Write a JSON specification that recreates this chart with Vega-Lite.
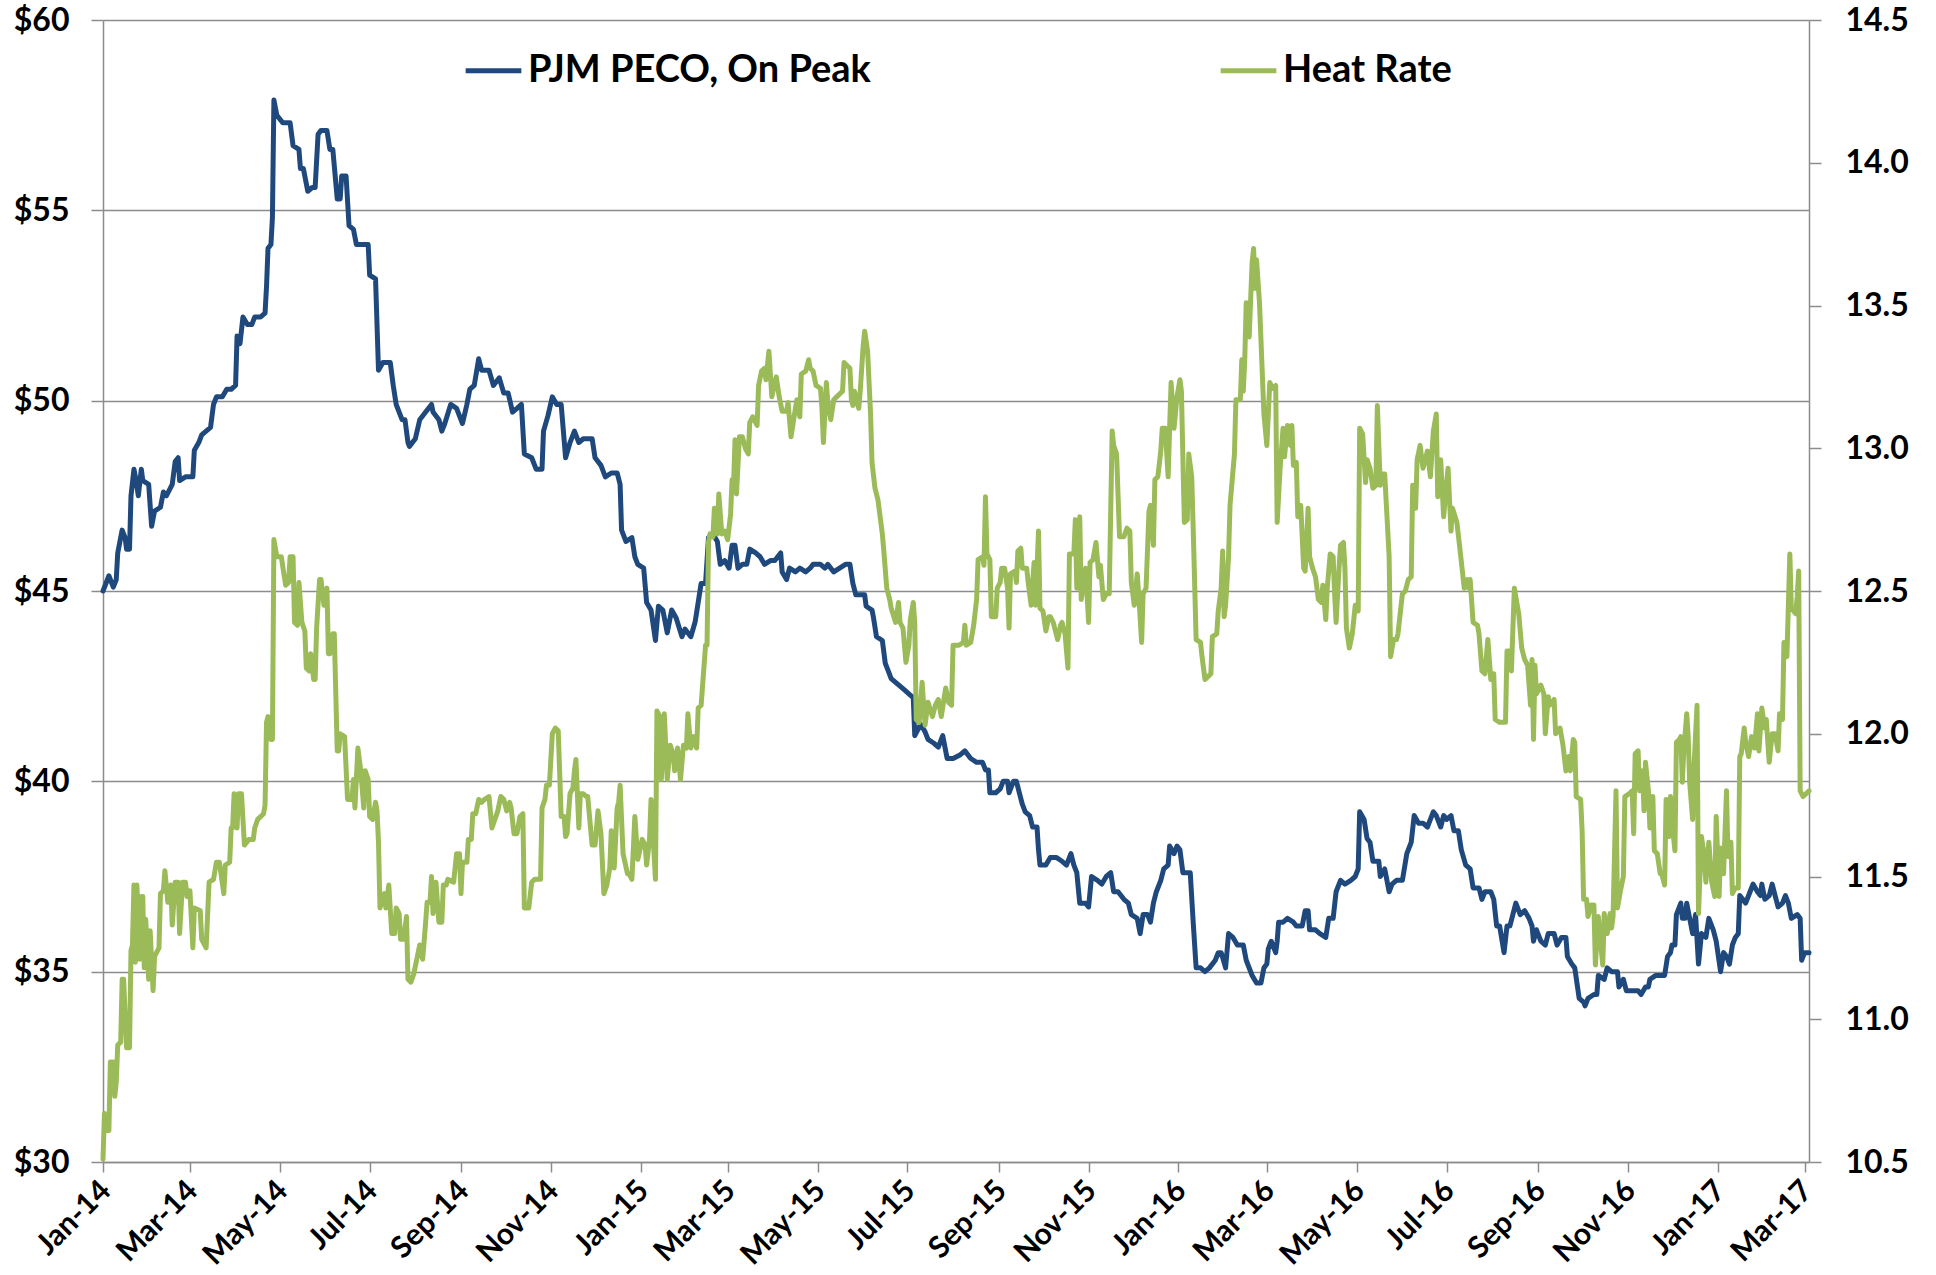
{
  "$schema": "https://vega.github.io/schema/vega-lite/v6.json",
  "width": 1706,
  "height": 1142,
  "autosize": {"type": "none"},
  "padding": {"left": 103, "top": 20, "right": 127, "bottom": 113},
  "background": "white",
  "datasets": {
    "peco": [
      {"d":"2014-01-01","v":45.0},{"d":"2014-01-05","v":45.4},{"d":"2014-01-08","v":45.1},{"d":"2014-01-10","v":45.3},{"d":"2014-01-11","v":46.0},{"d":"2014-01-14","v":46.6},{"d":"2014-01-16","v":46.4},{"d":"2014-01-17","v":46.1},{"d":"2014-01-19","v":46.1},{"d":"2014-01-20","v":47.5},{"d":"2014-01-22","v":48.2},{"d":"2014-01-23","v":48.0},{"d":"2014-01-25","v":47.5},{"d":"2014-01-27","v":48.2},{"d":"2014-01-28","v":47.9},
      {"d":"2014-02-01","v":47.8},{"d":"2014-02-03","v":46.7},{"d":"2014-02-05","v":47.1},{"d":"2014-02-09","v":47.2},{"d":"2014-02-11","v":47.6},{"d":"2014-02-13","v":47.5},{"d":"2014-02-17","v":47.8},{"d":"2014-02-19","v":48.4},{"d":"2014-02-21","v":48.5},{"d":"2014-02-22","v":47.9},{"d":"2014-02-26","v":48.0},
      {"d":"2014-03-03","v":48.0},{"d":"2014-03-04","v":48.7},{"d":"2014-03-07","v":48.9},{"d":"2014-03-09","v":49.1},{"d":"2014-03-12","v":49.2},{"d":"2014-03-15","v":49.3},{"d":"2014-03-17","v":49.9},{"d":"2014-03-19","v":50.1},{"d":"2014-03-23","v":50.1},{"d":"2014-03-26","v":50.3},{"d":"2014-03-29","v":50.3},
      {"d":"2014-04-01","v":50.4},{"d":"2014-04-02","v":51.7},{"d":"2014-04-04","v":51.5},{"d":"2014-04-06","v":52.2},{"d":"2014-04-09","v":52.0},{"d":"2014-04-12","v":52.0},{"d":"2014-04-14","v":52.2},{"d":"2014-04-18","v":52.2},{"d":"2014-04-21","v":52.3},{"d":"2014-04-22","v":53.0},{"d":"2014-04-23","v":54.0},{"d":"2014-04-25","v":54.1},{"d":"2014-04-26","v":54.8},{"d":"2014-04-27","v":57.9},{"d":"2014-04-29","v":57.5},
      {"d":"2014-05-01","v":57.4},{"d":"2014-05-03","v":57.3},{"d":"2014-05-08","v":57.3},{"d":"2014-05-10","v":56.7},{"d":"2014-05-14","v":56.6},{"d":"2014-05-15","v":56.1},{"d":"2014-05-17","v":56.1},{"d":"2014-05-20","v":55.5},{"d":"2014-05-23","v":55.6},{"d":"2014-05-25","v":55.6},{"d":"2014-05-27","v":57.0},{"d":"2014-05-29","v":57.1},
      {"d":"2014-06-02","v":57.1},{"d":"2014-06-04","v":56.6},{"d":"2014-06-06","v":56.6},{"d":"2014-06-09","v":55.3},{"d":"2014-06-11","v":55.3},{"d":"2014-06-12","v":55.9},{"d":"2014-06-15","v":55.9},{"d":"2014-06-17","v":54.6},{"d":"2014-06-20","v":54.5},{"d":"2014-06-22","v":54.1},{"d":"2014-06-30","v":54.1},
      {"d":"2014-07-01","v":53.3},{"d":"2014-07-05","v":53.2},{"d":"2014-07-07","v":50.8},{"d":"2014-07-10","v":51.0},{"d":"2014-07-15","v":51.0},{"d":"2014-07-17","v":50.4},{"d":"2014-07-19","v":49.9},{"d":"2014-07-23","v":49.5},{"d":"2014-07-25","v":49.5},{"d":"2014-07-27","v":48.9},{"d":"2014-07-28","v":48.8},
      {"d":"2014-08-01","v":49.0},{"d":"2014-08-04","v":49.5},{"d":"2014-08-08","v":49.7},{"d":"2014-08-12","v":49.9},{"d":"2014-08-13","v":49.7},{"d":"2014-08-17","v":49.5},{"d":"2014-08-19","v":49.2},{"d":"2014-08-21","v":49.4},{"d":"2014-08-25","v":49.9},{"d":"2014-08-29","v":49.8},
      {"d":"2014-09-02","v":49.4},{"d":"2014-09-05","v":49.9},{"d":"2014-09-07","v":50.3},{"d":"2014-09-10","v":50.4},{"d":"2014-09-13","v":51.1},{"d":"2014-09-15","v":50.8},{"d":"2014-09-20","v":50.8},{"d":"2014-09-23","v":50.4},{"d":"2014-09-27","v":50.6},{"d":"2014-09-30","v":50.2},
      {"d":"2014-10-03","v":50.2},{"d":"2014-10-06","v":49.7},{"d":"2014-10-09","v":49.8},{"d":"2014-10-12","v":49.9},{"d":"2014-10-14","v":48.6},{"d":"2014-10-19","v":48.5},{"d":"2014-10-22","v":48.2},{"d":"2014-10-26","v":48.2},{"d":"2014-10-27","v":49.2},{"d":"2014-10-30","v":49.6},
      {"d":"2014-11-02","v":50.1},{"d":"2014-11-05","v":49.9},{"d":"2014-11-08","v":49.9},{"d":"2014-11-11","v":48.5},{"d":"2014-11-14","v":48.9},{"d":"2014-11-17","v":49.2},{"d":"2014-11-20","v":48.9},{"d":"2014-11-23","v":49.0},{"d":"2014-11-29","v":49.0},
      {"d":"2014-12-01","v":48.5},{"d":"2014-12-05","v":48.3},{"d":"2014-12-08","v":48.0},{"d":"2014-12-12","v":48.1},{"d":"2014-12-16","v":48.1},{"d":"2014-12-18","v":47.8},{"d":"2014-12-19","v":46.6},{"d":"2014-12-22","v":46.3},{"d":"2014-12-26","v":46.4},{"d":"2014-12-28","v":45.9},{"d":"2014-12-30","v":45.7},
      {"d":"2015-01-03","v":45.6},{"d":"2015-01-05","v":44.7},{"d":"2015-01-08","v":44.5},{"d":"2015-01-11","v":43.7},{"d":"2015-01-13","v":44.6},{"d":"2015-01-16","v":44.5},{"d":"2015-01-19","v":43.9},{"d":"2015-01-22","v":44.5},{"d":"2015-01-25","v":44.3},{"d":"2015-01-29","v":43.8},{"d":"2015-01-31","v":44.0},
      {"d":"2015-02-04","v":43.8},{"d":"2015-02-07","v":44.2},{"d":"2015-02-09","v":44.7},{"d":"2015-02-11","v":45.2},{"d":"2015-02-14","v":45.2},{"d":"2015-02-16","v":46.4},{"d":"2015-02-19","v":46.5},{"d":"2015-02-22","v":46.3},{"d":"2015-02-24","v":45.7},{"d":"2015-02-27","v":45.8},
      {"d":"2015-03-02","v":45.6},{"d":"2015-03-04","v":46.2},{"d":"2015-03-06","v":46.2},{"d":"2015-03-08","v":45.6},{"d":"2015-03-11","v":45.7},{"d":"2015-03-14","v":45.7},{"d":"2015-03-16","v":46.1},{"d":"2015-03-20","v":46.0},{"d":"2015-03-23","v":45.9},{"d":"2015-03-26","v":45.7},{"d":"2015-03-30","v":45.8},
      {"d":"2015-04-02","v":45.8},{"d":"2015-04-06","v":46.0},{"d":"2015-04-07","v":45.5},{"d":"2015-04-10","v":45.3},{"d":"2015-04-12","v":45.6},{"d":"2015-04-16","v":45.5},{"d":"2015-04-19","v":45.6},{"d":"2015-04-23","v":45.5},{"d":"2015-04-26","v":45.6},{"d":"2015-04-28","v":45.7},
      {"d":"2015-05-03","v":45.7},{"d":"2015-05-06","v":45.6},{"d":"2015-05-08","v":45.7},{"d":"2015-05-12","v":45.5},{"d":"2015-05-16","v":45.6},{"d":"2015-05-20","v":45.7},{"d":"2015-05-23","v":45.7},{"d":"2015-05-25","v":45.2},{"d":"2015-05-27","v":44.9},{"d":"2015-05-30","v":44.9},
      {"d":"2015-06-02","v":44.9},{"d":"2015-06-03","v":44.6},{"d":"2015-06-07","v":44.5},{"d":"2015-06-08","v":44.3},{"d":"2015-06-10","v":43.8},{"d":"2015-06-14","v":43.7},{"d":"2015-06-16","v":43.1},{"d":"2015-06-18","v":42.9},{"d":"2015-06-20","v":42.7},{"d":"2015-06-23","v":42.6},{"d":"2015-06-26","v":42.5},{"d":"2015-06-29","v":42.4},
      {"d":"2015-07-02","v":42.3},{"d":"2015-07-05","v":42.2},{"d":"2015-07-06","v":41.2},{"d":"2015-07-10","v":41.5},{"d":"2015-07-13","v":41.3},{"d":"2015-07-15","v":41.1},{"d":"2015-07-19","v":41.0},{"d":"2015-07-22","v":40.9},{"d":"2015-07-25","v":41.2},{"d":"2015-07-28","v":40.6},
      {"d":"2015-08-01","v":40.6},{"d":"2015-08-06","v":40.7},{"d":"2015-08-09","v":40.8},{"d":"2015-08-13","v":40.6},{"d":"2015-08-17","v":40.5},{"d":"2015-08-21","v":40.5},{"d":"2015-08-23","v":40.3},{"d":"2015-08-25","v":40.3},{"d":"2015-08-26","v":39.7},{"d":"2015-08-30","v":39.7},
      {"d":"2015-09-02","v":39.8},{"d":"2015-09-04","v":40.0},{"d":"2015-09-07","v":40.0},{"d":"2015-09-08","v":39.7},{"d":"2015-09-11","v":40.0},{"d":"2015-09-13","v":40.0},{"d":"2015-09-15","v":39.7},{"d":"2015-09-17","v":39.4},{"d":"2015-09-19","v":39.2},{"d":"2015-09-22","v":39.1},{"d":"2015-09-24","v":38.8},{"d":"2015-09-27","v":38.8},{"d":"2015-09-28","v":38.2},{"d":"2015-09-29","v":37.8},
      {"d":"2015-10-03","v":37.8},{"d":"2015-10-06","v":38.0},{"d":"2015-10-10","v":38.0},{"d":"2015-10-14","v":37.9},{"d":"2015-10-17","v":37.8},{"d":"2015-10-20","v":38.1},{"d":"2015-10-22","v":37.8},{"d":"2015-10-24","v":37.6},{"d":"2015-10-26","v":36.8},{"d":"2015-10-30","v":36.8},
      {"d":"2015-11-01","v":36.7},{"d":"2015-11-03","v":37.5},{"d":"2015-11-07","v":37.4},{"d":"2015-11-10","v":37.3},{"d":"2015-11-13","v":37.5},{"d":"2015-11-16","v":37.6},{"d":"2015-11-18","v":37.1},{"d":"2015-11-21","v":37.1},{"d":"2015-11-25","v":36.9},{"d":"2015-11-28","v":36.8},{"d":"2015-11-30","v":36.5},
      {"d":"2015-12-04","v":36.4},{"d":"2015-12-06","v":36.0},{"d":"2015-12-08","v":36.5},{"d":"2015-12-11","v":36.5},{"d":"2015-12-13","v":36.3},{"d":"2015-12-15","v":36.8},{"d":"2015-12-17","v":37.1},{"d":"2015-12-20","v":37.4},{"d":"2015-12-22","v":37.7},{"d":"2015-12-25","v":37.8},{"d":"2015-12-26","v":38.3},{"d":"2015-12-29","v":38.1},{"d":"2015-12-31","v":38.3},
      {"d":"2016-01-02","v":38.2},{"d":"2016-01-04","v":37.6},{"d":"2016-01-09","v":37.6},{"d":"2016-01-11","v":36.3},{"d":"2016-01-13","v":35.1},{"d":"2016-01-16","v":35.1},{"d":"2016-01-19","v":35.0},{"d":"2016-01-22","v":35.1},{"d":"2016-01-26","v":35.3},{"d":"2016-01-28","v":35.5},{"d":"2016-01-30","v":35.5},
      {"d":"2016-02-02","v":35.1},{"d":"2016-02-04","v":36.0},{"d":"2016-02-07","v":35.9},{"d":"2016-02-10","v":35.7},{"d":"2016-02-14","v":35.7},{"d":"2016-02-16","v":35.3},{"d":"2016-02-20","v":34.9},{"d":"2016-02-23","v":34.7},{"d":"2016-02-26","v":34.7},{"d":"2016-02-28","v":35.1},
      {"d":"2016-03-01","v":35.2},{"d":"2016-03-02","v":35.6},{"d":"2016-03-04","v":35.8},{"d":"2016-03-07","v":35.5},{"d":"2016-03-08","v":35.8},{"d":"2016-03-09","v":36.3},{"d":"2016-03-12","v":36.3},{"d":"2016-03-15","v":36.4},{"d":"2016-03-19","v":36.3},{"d":"2016-03-21","v":36.2},{"d":"2016-03-25","v":36.2},{"d":"2016-03-27","v":36.6},{"d":"2016-03-29","v":36.6},{"d":"2016-03-30","v":36.1},
      {"d":"2016-04-03","v":36.1},{"d":"2016-04-06","v":36.0},{"d":"2016-04-10","v":35.9},{"d":"2016-04-12","v":36.4},{"d":"2016-04-15","v":36.4},{"d":"2016-04-17","v":37.1},{"d":"2016-04-20","v":37.4},{"d":"2016-04-23","v":37.3},{"d":"2016-04-27","v":37.4},{"d":"2016-04-30","v":37.5},
      {"d":"2016-05-02","v":37.7},{"d":"2016-05-03","v":39.2},{"d":"2016-05-06","v":39.0},{"d":"2016-05-08","v":38.5},{"d":"2016-05-10","v":38.4},{"d":"2016-05-12","v":37.9},{"d":"2016-05-16","v":37.9},{"d":"2016-05-17","v":37.5},{"d":"2016-05-20","v":37.7},{"d":"2016-05-23","v":37.1},{"d":"2016-05-25","v":37.3},{"d":"2016-05-28","v":37.4},
      {"d":"2016-06-01","v":37.4},{"d":"2016-06-04","v":38.1},{"d":"2016-06-07","v":38.4},{"d":"2016-06-09","v":39.1},{"d":"2016-06-12","v":38.9},{"d":"2016-06-15","v":38.9},{"d":"2016-06-18","v":38.8},{"d":"2016-06-20","v":39.0},{"d":"2016-06-22","v":39.2},{"d":"2016-06-24","v":39.1},{"d":"2016-06-27","v":38.8},{"d":"2016-06-29","v":39.1},
      {"d":"2016-07-01","v":39.0},{"d":"2016-07-04","v":39.1},{"d":"2016-07-06","v":38.7},{"d":"2016-07-09","v":38.7},{"d":"2016-07-11","v":38.2},{"d":"2016-07-14","v":37.8},{"d":"2016-07-17","v":37.7},{"d":"2016-07-19","v":37.2},{"d":"2016-07-23","v":37.2},{"d":"2016-07-25","v":36.9},{"d":"2016-07-27","v":37.1},{"d":"2016-07-31","v":37.1},
      {"d":"2016-08-02","v":36.9},{"d":"2016-08-04","v":36.2},{"d":"2016-08-06","v":36.2},{"d":"2016-08-09","v":35.5},{"d":"2016-08-11","v":36.2},{"d":"2016-08-13","v":36.2},{"d":"2016-08-17","v":36.8},{"d":"2016-08-20","v":36.5},{"d":"2016-08-23","v":36.6},{"d":"2016-08-26","v":36.4},{"d":"2016-08-28","v":36.2},{"d":"2016-08-29","v":35.8},{"d":"2016-08-31","v":36.1},
      {"d":"2016-09-03","v":35.8},{"d":"2016-09-06","v":35.7},{"d":"2016-09-08","v":36.0},{"d":"2016-09-12","v":36.0},{"d":"2016-09-14","v":35.7},{"d":"2016-09-17","v":35.9},{"d":"2016-09-20","v":35.9},{"d":"2016-09-21","v":35.4},{"d":"2016-09-24","v":35.2},{"d":"2016-09-26","v":35.1},{"d":"2016-09-29","v":34.3},
      {"d":"2016-10-02","v":34.2},{"d":"2016-10-03","v":34.1},{"d":"2016-10-05","v":34.3},{"d":"2016-10-09","v":34.4},{"d":"2016-10-11","v":34.4},{"d":"2016-10-12","v":34.9},{"d":"2016-10-16","v":34.8},{"d":"2016-10-18","v":35.1},{"d":"2016-10-21","v":35.0},{"d":"2016-10-25","v":35.0},{"d":"2016-10-26","v":34.6},{"d":"2016-10-29","v":34.8},{"d":"2016-10-31","v":34.5},
      {"d":"2016-11-05","v":34.5},{"d":"2016-11-08","v":34.5},{"d":"2016-11-10","v":34.4},{"d":"2016-11-13","v":34.6},{"d":"2016-11-15","v":34.6},{"d":"2016-11-16","v":34.8},{"d":"2016-11-20","v":34.9},{"d":"2016-11-22","v":34.9},{"d":"2016-11-26","v":34.9},{"d":"2016-11-28","v":35.4},{"d":"2016-11-30","v":35.5},
      {"d":"2016-12-01","v":35.7},{"d":"2016-12-03","v":35.7},{"d":"2016-12-04","v":36.5},{"d":"2016-12-07","v":36.8},{"d":"2016-12-08","v":36.4},{"d":"2016-12-10","v":36.4},{"d":"2016-12-11","v":36.8},{"d":"2016-12-13","v":36.4},{"d":"2016-12-15","v":36.0},{"d":"2016-12-17","v":36.5},{"d":"2016-12-19","v":35.2},{"d":"2016-12-21","v":36.0},{"d":"2016-12-24","v":35.9},{"d":"2016-12-26","v":36.4},{"d":"2016-12-29","v":36.1},{"d":"2016-12-31","v":35.8},
      {"d":"2017-01-03","v":35.0},{"d":"2017-01-05","v":35.5},{"d":"2017-01-07","v":35.4},{"d":"2017-01-09","v":35.2},{"d":"2017-01-11","v":35.7},{"d":"2017-01-13","v":35.9},{"d":"2017-01-15","v":36.0},{"d":"2017-01-16","v":37.0},{"d":"2017-01-20","v":36.8},{"d":"2017-01-23","v":37.1},{"d":"2017-01-25","v":37.3},{"d":"2017-01-28","v":37.1},{"d":"2017-01-30","v":37.0},{"d":"2017-01-31","v":37.3},
      {"d":"2017-02-02","v":36.9},{"d":"2017-02-05","v":37.0},{"d":"2017-02-07","v":37.3},{"d":"2017-02-09","v":37.0},{"d":"2017-02-11","v":36.7},{"d":"2017-02-14","v":36.8},{"d":"2017-02-16","v":37.0},{"d":"2017-02-18","v":36.8},{"d":"2017-02-20","v":36.4},{"d":"2017-02-24","v":36.5},{"d":"2017-02-26","v":36.4},{"d":"2017-02-27","v":35.3},
      {"d":"2017-03-01","v":35.5},{"d":"2017-03-04","v":35.5}
    ],
    "hr": [
      {"d":"2014-01-01","v":10.51},{"d":"2014-01-02","v":10.67},{"d":"2014-01-03","v":10.61},{"d":"2014-01-05","v":10.61},{"d":"2014-01-06","v":10.85},{"d":"2014-01-08","v":10.85},{"d":"2014-01-09","v":10.73},{"d":"2014-01-10","v":10.78},{"d":"2014-01-11","v":10.91},{"d":"2014-01-13","v":10.92},{"d":"2014-01-14","v":11.14},{"d":"2014-01-15","v":11.14},{"d":"2014-01-17","v":10.90},{"d":"2014-01-19","v":10.90},{"d":"2014-01-20","v":11.24},{"d":"2014-01-21","v":11.26},{"d":"2014-01-22","v":11.47},{"d":"2014-01-23","v":11.20},{"d":"2014-01-24","v":11.47},{"d":"2014-01-26","v":11.21},{"d":"2014-01-27","v":11.43},{"d":"2014-01-28","v":11.43},{"d":"2014-01-29","v":11.18},{"d":"2014-01-30","v":11.35},
      {"d":"2014-02-01","v":11.14},{"d":"2014-02-02","v":11.31},{"d":"2014-02-04","v":11.10},{"d":"2014-02-05","v":11.22},{"d":"2014-02-08","v":11.25},{"d":"2014-02-09","v":11.44},{"d":"2014-02-11","v":11.45},{"d":"2014-02-12","v":11.52},{"d":"2014-02-14","v":11.41},{"d":"2014-02-16","v":11.47},{"d":"2014-02-17","v":11.33},{"d":"2014-02-19","v":11.48},{"d":"2014-02-21","v":11.48},{"d":"2014-02-22","v":11.30},{"d":"2014-02-24","v":11.48},{"d":"2014-02-26","v":11.48},{"d":"2014-02-27","v":11.43},
      {"d":"2014-03-01","v":11.45},{"d":"2014-03-03","v":11.25},{"d":"2014-03-04","v":11.39},{"d":"2014-03-08","v":11.38},{"d":"2014-03-09","v":11.28},{"d":"2014-03-12","v":11.25},{"d":"2014-03-14","v":11.48},{"d":"2014-03-17","v":11.49},{"d":"2014-03-19","v":11.55},{"d":"2014-03-21","v":11.55},{"d":"2014-03-24","v":11.44},{"d":"2014-03-25","v":11.54},{"d":"2014-03-28","v":11.55},{"d":"2014-03-29","v":11.67},{"d":"2014-03-30","v":11.67},{"d":"2014-03-31","v":11.79},
      {"d":"2014-04-02","v":11.67},{"d":"2014-04-03","v":11.79},{"d":"2014-04-05","v":11.79},{"d":"2014-04-07","v":11.61},{"d":"2014-04-10","v":11.63},{"d":"2014-04-13","v":11.63},{"d":"2014-04-14","v":11.67},{"d":"2014-04-16","v":11.70},{"d":"2014-04-20","v":11.72},{"d":"2014-04-21","v":11.75},{"d":"2014-04-22","v":12.04},{"d":"2014-04-23","v":12.06},{"d":"2014-04-25","v":11.98},{"d":"2014-04-26","v":11.98},{"d":"2014-04-27","v":12.68},{"d":"2014-04-29","v":12.62},
      {"d":"2014-05-02","v":12.62},{"d":"2014-05-05","v":12.52},{"d":"2014-05-07","v":12.53},{"d":"2014-05-08","v":12.62},{"d":"2014-05-10","v":12.62},{"d":"2014-05-11","v":12.39},{"d":"2014-05-13","v":12.38},{"d":"2014-05-14","v":12.53},{"d":"2014-05-16","v":12.39},{"d":"2014-05-18","v":12.36},{"d":"2014-05-19","v":12.23},{"d":"2014-05-21","v":12.22},{"d":"2014-05-22","v":12.28},{"d":"2014-05-24","v":12.19},{"d":"2014-05-25","v":12.19},{"d":"2014-05-26","v":12.37},{"d":"2014-05-28","v":12.54},{"d":"2014-05-29","v":12.54},{"d":"2014-05-31","v":12.45},
      {"d":"2014-06-02","v":12.51},{"d":"2014-06-03","v":12.28},{"d":"2014-06-04","v":12.28},{"d":"2014-06-06","v":12.35},{"d":"2014-06-07","v":12.35},{"d":"2014-06-09","v":11.94},{"d":"2014-06-10","v":11.94},{"d":"2014-06-11","v":12.00},{"d":"2014-06-14","v":11.99},{"d":"2014-06-16","v":11.77},{"d":"2014-06-19","v":11.77},{"d":"2014-06-20","v":11.84},{"d":"2014-06-21","v":11.74},{"d":"2014-06-23","v":11.95},{"d":"2014-06-25","v":11.87},{"d":"2014-06-27","v":11.74},{"d":"2014-06-28","v":11.87},{"d":"2014-06-30","v":11.84},
      {"d":"2014-07-01","v":11.71},{"d":"2014-07-03","v":11.70},{"d":"2014-07-05","v":11.76},{"d":"2014-07-06","v":11.73},{"d":"2014-07-07","v":11.62},{"d":"2014-07-08","v":11.39},{"d":"2014-07-11","v":11.44},{"d":"2014-07-12","v":11.39},{"d":"2014-07-14","v":11.47},{"d":"2014-07-16","v":11.30},{"d":"2014-07-18","v":11.30},{"d":"2014-07-19","v":11.39},{"d":"2014-07-21","v":11.37},{"d":"2014-07-22","v":11.28},{"d":"2014-07-24","v":11.28},{"d":"2014-07-26","v":11.36},{"d":"2014-07-27","v":11.14},{"d":"2014-07-29","v":11.13},{"d":"2014-07-31","v":11.16},
      {"d":"2014-08-02","v":11.21},{"d":"2014-08-04","v":11.26},{"d":"2014-08-06","v":11.21},{"d":"2014-08-08","v":11.34},{"d":"2014-08-09","v":11.41},{"d":"2014-08-11","v":11.41},{"d":"2014-08-12","v":11.50},{"d":"2014-08-13","v":11.37},{"d":"2014-08-15","v":11.48},{"d":"2014-08-17","v":11.34},{"d":"2014-08-19","v":11.34},{"d":"2014-08-20","v":11.47},{"d":"2014-08-22","v":11.47},{"d":"2014-08-23","v":11.49},{"d":"2014-08-27","v":11.48},{"d":"2014-08-29","v":11.58},{"d":"2014-08-31","v":11.58},
      {"d":"2014-09-01","v":11.44},{"d":"2014-09-02","v":11.55},{"d":"2014-09-05","v":11.55},{"d":"2014-09-06","v":11.63},{"d":"2014-09-08","v":11.63},{"d":"2014-09-09","v":11.72},{"d":"2014-09-11","v":11.72},{"d":"2014-09-13","v":11.77},{"d":"2014-09-15","v":11.76},{"d":"2014-09-17","v":11.77},{"d":"2014-09-20","v":11.78},{"d":"2014-09-22","v":11.67},{"d":"2014-09-24","v":11.70},{"d":"2014-09-26","v":11.73},{"d":"2014-09-28","v":11.78},{"d":"2014-09-30","v":11.77},
      {"d":"2014-10-02","v":11.73},{"d":"2014-10-04","v":11.76},{"d":"2014-10-05","v":11.74},{"d":"2014-10-07","v":11.65},{"d":"2014-10-09","v":11.65},{"d":"2014-10-11","v":11.71},{"d":"2014-10-13","v":11.72},{"d":"2014-10-14","v":11.39},{"d":"2014-10-17","v":11.39},{"d":"2014-10-19","v":11.48},{"d":"2014-10-21","v":11.49},{"d":"2014-10-25","v":11.49},{"d":"2014-10-26","v":11.74},{"d":"2014-10-28","v":11.77},{"d":"2014-10-29","v":11.82},{"d":"2014-10-31","v":11.82},
      {"d":"2014-11-02","v":12.00},{"d":"2014-11-04","v":12.02},{"d":"2014-11-06","v":12.01},{"d":"2014-11-08","v":11.71},{"d":"2014-11-10","v":11.71},{"d":"2014-11-11","v":11.64},{"d":"2014-11-12","v":11.65},{"d":"2014-11-14","v":11.79},{"d":"2014-11-16","v":11.81},{"d":"2014-11-17","v":11.87},{"d":"2014-11-18","v":11.91},{"d":"2014-11-20","v":11.67},{"d":"2014-11-21","v":11.79},{"d":"2014-11-23","v":11.79},{"d":"2014-11-25","v":11.78},{"d":"2014-11-26","v":11.78},{"d":"2014-11-29","v":11.61},
      {"d":"2014-12-01","v":11.61},{"d":"2014-12-03","v":11.73},{"d":"2014-12-05","v":11.65},{"d":"2014-12-07","v":11.44},{"d":"2014-12-09","v":11.47},{"d":"2014-12-11","v":11.53},{"d":"2014-12-12","v":11.66},{"d":"2014-12-14","v":11.53},{"d":"2014-12-16","v":11.74},{"d":"2014-12-17","v":11.76},{"d":"2014-12-18","v":11.82},{"d":"2014-12-20","v":11.58},{"d":"2014-12-23","v":11.51},{"d":"2014-12-24","v":11.51},{"d":"2014-12-26","v":11.49},{"d":"2014-12-28","v":11.71},{"d":"2014-12-30","v":11.56},
      {"d":"2015-01-02","v":11.63},{"d":"2015-01-04","v":11.61},{"d":"2015-01-05","v":11.54},{"d":"2015-01-07","v":11.63},{"d":"2015-01-08","v":11.77},{"d":"2015-01-11","v":11.49},{"d":"2015-01-12","v":12.08},{"d":"2015-01-14","v":12.06},{"d":"2015-01-15","v":11.84},{"d":"2015-01-17","v":12.07},{"d":"2015-01-19","v":11.84},{"d":"2015-01-21","v":11.96},{"d":"2015-01-23","v":11.93},{"d":"2015-01-24","v":11.87},{"d":"2015-01-26","v":11.95},{"d":"2015-01-28","v":11.84},{"d":"2015-01-30","v":11.96},
      {"d":"2015-02-01","v":11.95},{"d":"2015-02-02","v":12.07},{"d":"2015-02-04","v":11.95},{"d":"2015-02-06","v":11.99},{"d":"2015-02-08","v":11.95},{"d":"2015-02-09","v":12.09},{"d":"2015-02-11","v":12.10},{"d":"2015-02-14","v":12.31},{"d":"2015-02-15","v":12.31},{"d":"2015-02-16","v":12.67},{"d":"2015-02-17","v":12.70},{"d":"2015-02-19","v":12.69},{"d":"2015-02-20","v":12.79},{"d":"2015-02-22","v":12.70},{"d":"2015-02-23","v":12.84},{"d":"2015-02-25","v":12.70},{"d":"2015-02-27","v":12.71},
      {"d":"2015-03-01","v":12.68},{"d":"2015-03-03","v":12.77},{"d":"2015-03-04","v":12.89},{"d":"2015-03-05","v":12.87},{"d":"2015-03-06","v":13.03},{"d":"2015-03-07","v":12.84},{"d":"2015-03-09","v":13.04},{"d":"2015-03-11","v":13.04},{"d":"2015-03-13","v":13.00},{"d":"2015-03-15","v":12.98},{"d":"2015-03-16","v":13.09},{"d":"2015-03-18","v":13.11},{"d":"2015-03-21","v":13.08},{"d":"2015-03-22","v":13.22},{"d":"2015-03-24","v":13.27},{"d":"2015-03-26","v":13.28},{"d":"2015-03-27","v":13.24},{"d":"2015-03-29","v":13.34},{"d":"2015-03-31","v":13.18},
      {"d":"2015-04-02","v":13.23},{"d":"2015-04-03","v":13.25},{"d":"2015-04-05","v":13.18},{"d":"2015-04-07","v":13.13},{"d":"2015-04-10","v":13.13},{"d":"2015-04-11","v":13.16},{"d":"2015-04-13","v":13.04},{"d":"2015-04-16","v":13.14},{"d":"2015-04-17","v":13.17},{"d":"2015-04-19","v":13.11},{"d":"2015-04-20","v":13.26},{"d":"2015-04-23","v":13.27},{"d":"2015-04-25","v":13.31},{"d":"2015-04-26","v":13.28},{"d":"2015-04-28","v":13.27},{"d":"2015-04-30","v":13.22},
      {"d":"2015-05-03","v":13.21},{"d":"2015-05-04","v":13.14},{"d":"2015-05-05","v":13.02},{"d":"2015-05-07","v":13.23},{"d":"2015-05-08","v":13.16},{"d":"2015-05-10","v":13.10},{"d":"2015-05-12","v":13.17},{"d":"2015-05-14","v":13.18},{"d":"2015-05-16","v":13.19},{"d":"2015-05-18","v":13.20},{"d":"2015-05-19","v":13.30},{"d":"2015-05-21","v":13.29},{"d":"2015-05-23","v":13.28},{"d":"2015-05-24","v":13.17},{"d":"2015-05-25","v":13.15},{"d":"2015-05-26","v":13.20},{"d":"2015-05-29","v":13.14},{"d":"2015-05-30","v":13.20},
      {"d":"2015-06-01","v":13.36},{"d":"2015-06-02","v":13.41},{"d":"2015-06-04","v":13.34},{"d":"2015-06-06","v":13.12},{"d":"2015-06-07","v":12.95},{"d":"2015-06-09","v":12.86},{"d":"2015-06-11","v":12.82},{"d":"2015-06-14","v":12.70},{"d":"2015-06-15","v":12.64},{"d":"2015-06-17","v":12.51},{"d":"2015-06-19","v":12.47},{"d":"2015-06-20","v":12.44},{"d":"2015-06-23","v":12.39},{"d":"2015-06-25","v":12.46},{"d":"2015-06-26","v":12.39},{"d":"2015-06-28","v":12.37},{"d":"2015-06-30","v":12.25},
      {"d":"2015-07-02","v":12.31},{"d":"2015-07-03","v":12.40},{"d":"2015-07-05","v":12.46},{"d":"2015-07-06","v":12.39},{"d":"2015-07-07","v":12.05},{"d":"2015-07-09","v":12.04},{"d":"2015-07-11","v":12.18},{"d":"2015-07-13","v":12.03},{"d":"2015-07-15","v":12.11},{"d":"2015-07-18","v":12.06},{"d":"2015-07-20","v":12.10},{"d":"2015-07-22","v":12.12},{"d":"2015-07-24","v":12.06},{"d":"2015-07-27","v":12.16},{"d":"2015-07-29","v":12.11},{"d":"2015-07-31","v":12.10},
      {"d":"2015-08-01","v":12.31},{"d":"2015-08-05","v":12.31},{"d":"2015-08-08","v":12.32},{"d":"2015-08-09","v":12.38},{"d":"2015-08-10","v":12.31},{"d":"2015-08-13","v":12.32},{"d":"2015-08-15","v":12.38},{"d":"2015-08-17","v":12.47},{"d":"2015-08-18","v":12.61},{"d":"2015-08-21","v":12.62},{"d":"2015-08-22","v":12.59},{"d":"2015-08-23","v":12.83},{"d":"2015-08-24","v":12.63},{"d":"2015-08-26","v":12.61},{"d":"2015-08-27","v":12.41},{"d":"2015-08-30","v":12.41},{"d":"2015-08-31","v":12.51},
      {"d":"2015-09-02","v":12.53},{"d":"2015-09-03","v":12.58},{"d":"2015-09-05","v":12.58},{"d":"2015-09-07","v":12.51},{"d":"2015-09-08","v":12.37},{"d":"2015-09-09","v":12.56},{"d":"2015-09-12","v":12.57},{"d":"2015-09-13","v":12.53},{"d":"2015-09-14","v":12.64},{"d":"2015-09-16","v":12.65},{"d":"2015-09-17","v":12.58},{"d":"2015-09-20","v":12.58},{"d":"2015-09-21","v":12.53},{"d":"2015-09-23","v":12.45},{"d":"2015-09-25","v":12.60},{"d":"2015-09-26","v":12.45},{"d":"2015-09-28","v":12.71},{"d":"2015-09-29","v":12.44},
      {"d":"2015-10-01","v":12.43},{"d":"2015-10-03","v":12.36},{"d":"2015-10-05","v":12.41},{"d":"2015-10-06","v":12.41},{"d":"2015-10-08","v":12.39},{"d":"2015-10-11","v":12.33},{"d":"2015-10-13","v":12.38},{"d":"2015-10-14","v":12.39},{"d":"2015-10-16","v":12.35},{"d":"2015-10-18","v":12.23},{"d":"2015-10-19","v":12.63},{"d":"2015-10-22","v":12.63},{"d":"2015-10-23","v":12.75},{"d":"2015-10-24","v":12.51},{"d":"2015-10-26","v":12.76},{"d":"2015-10-27","v":12.47},{"d":"2015-10-30","v":12.58},
      {"d":"2015-11-01","v":12.39},{"d":"2015-11-02","v":12.60},{"d":"2015-11-04","v":12.61},{"d":"2015-11-06","v":12.67},{"d":"2015-11-08","v":12.55},{"d":"2015-11-09","v":12.59},{"d":"2015-11-11","v":12.47},{"d":"2015-11-13","v":12.49},{"d":"2015-11-15","v":12.49},{"d":"2015-11-17","v":13.06},{"d":"2015-11-18","v":13.01},{"d":"2015-11-20","v":12.98},{"d":"2015-11-22","v":12.69},{"d":"2015-11-25","v":12.69},{"d":"2015-11-27","v":12.72},{"d":"2015-11-29","v":12.71},{"d":"2015-11-30","v":12.53},
      {"d":"2015-12-02","v":12.45},{"d":"2015-12-04","v":12.56},{"d":"2015-12-05","v":12.49},{"d":"2015-12-07","v":12.32},{"d":"2015-12-08","v":12.49},{"d":"2015-12-10","v":12.51},{"d":"2015-12-12","v":12.78},{"d":"2015-12-13","v":12.80},{"d":"2015-12-15","v":12.66},{"d":"2015-12-16","v":12.89},{"d":"2015-12-18","v":12.90},{"d":"2015-12-20","v":12.99},{"d":"2015-12-21","v":13.07},{"d":"2015-12-23","v":13.07},{"d":"2015-12-25","v":12.90},{"d":"2015-12-26","v":13.07},{"d":"2015-12-27","v":13.23},{"d":"2015-12-29","v":13.07},{"d":"2015-12-31","v":13.18},
      {"d":"2016-01-02","v":13.24},{"d":"2016-01-03","v":13.20},{"d":"2016-01-05","v":12.74},{"d":"2016-01-07","v":12.75},{"d":"2016-01-08","v":12.98},{"d":"2016-01-10","v":12.90},{"d":"2016-01-11","v":12.72},{"d":"2016-01-13","v":12.33},{"d":"2016-01-16","v":12.32},{"d":"2016-01-17","v":12.27},{"d":"2016-01-19","v":12.19},{"d":"2016-01-21","v":12.20},{"d":"2016-01-23","v":12.21},{"d":"2016-01-24","v":12.34},{"d":"2016-01-27","v":12.35},{"d":"2016-01-28","v":12.43},{"d":"2016-01-30","v":12.51},{"d":"2016-01-31","v":12.64},
      {"d":"2016-02-01","v":12.41},{"d":"2016-02-02","v":12.45},{"d":"2016-02-04","v":12.62},{"d":"2016-02-05","v":12.80},{"d":"2016-02-06","v":12.86},{"d":"2016-02-08","v":12.98},{"d":"2016-02-09","v":13.17},{"d":"2016-02-12","v":13.17},{"d":"2016-02-13","v":13.31},{"d":"2016-02-14","v":13.20},{"d":"2016-02-15","v":13.31},{"d":"2016-02-16","v":13.51},{"d":"2016-02-18","v":13.39},{"d":"2016-02-19","v":13.52},{"d":"2016-02-20","v":13.65},{"d":"2016-02-21","v":13.70},{"d":"2016-02-22","v":13.56},{"d":"2016-02-23","v":13.66},{"d":"2016-02-25","v":13.51},{"d":"2016-02-27","v":13.25},{"d":"2016-02-28","v":13.12},
      {"d":"2016-03-01","v":13.01},{"d":"2016-03-02","v":13.12},{"d":"2016-03-03","v":13.23},{"d":"2016-03-05","v":13.21},{"d":"2016-03-07","v":13.22},{"d":"2016-03-08","v":12.74},{"d":"2016-03-10","v":12.93},{"d":"2016-03-12","v":13.07},{"d":"2016-03-13","v":12.97},{"d":"2016-03-15","v":13.08},{"d":"2016-03-17","v":13.01},{"d":"2016-03-18","v":13.08},{"d":"2016-03-19","v":12.94},{"d":"2016-03-21","v":12.95},{"d":"2016-03-22","v":12.76},{"d":"2016-03-24","v":12.80},{"d":"2016-03-26","v":12.58},{"d":"2016-03-27","v":12.57},{"d":"2016-03-29","v":12.79},{"d":"2016-03-30","v":12.62},
      {"d":"2016-04-01","v":12.58},{"d":"2016-04-03","v":12.55},{"d":"2016-04-05","v":12.47},{"d":"2016-04-07","v":12.46},{"d":"2016-04-08","v":12.52},{"d":"2016-04-10","v":12.40},{"d":"2016-04-11","v":12.51},{"d":"2016-04-13","v":12.63},{"d":"2016-04-15","v":12.62},{"d":"2016-04-16","v":12.49},{"d":"2016-04-17","v":12.39},{"d":"2016-04-19","v":12.58},{"d":"2016-04-20","v":12.66},{"d":"2016-04-22","v":12.67},{"d":"2016-04-23","v":12.58},{"d":"2016-04-24","v":12.37},{"d":"2016-04-26","v":12.30},{"d":"2016-04-28","v":12.35},{"d":"2016-04-30","v":12.45},
      {"d":"2016-05-02","v":12.43},{"d":"2016-05-03","v":13.07},{"d":"2016-05-05","v":13.05},{"d":"2016-05-07","v":12.88},{"d":"2016-05-08","v":12.96},{"d":"2016-05-10","v":12.93},{"d":"2016-05-12","v":12.86},{"d":"2016-05-14","v":12.87},{"d":"2016-05-15","v":13.15},{"d":"2016-05-17","v":12.87},{"d":"2016-05-18","v":12.91},{"d":"2016-05-20","v":12.91},{"d":"2016-05-23","v":12.62},{"d":"2016-05-24","v":12.27},{"d":"2016-05-26","v":12.33},{"d":"2016-05-28","v":12.33},{"d":"2016-05-29","v":12.35},
      {"d":"2016-06-01","v":12.49},{"d":"2016-06-03","v":12.50},{"d":"2016-06-05","v":12.54},{"d":"2016-06-07","v":12.55},{"d":"2016-06-08","v":12.87},{"d":"2016-06-10","v":12.79},{"d":"2016-06-11","v":12.96},{"d":"2016-06-13","v":13.01},{"d":"2016-06-15","v":12.93},{"d":"2016-06-18","v":12.99},{"d":"2016-06-20","v":12.90},{"d":"2016-06-22","v":13.06},{"d":"2016-06-24","v":13.12},{"d":"2016-06-25","v":12.83},{"d":"2016-06-27","v":12.96},{"d":"2016-06-29","v":12.76},{"d":"2016-06-30","v":12.82},
      {"d":"2016-07-02","v":12.93},{"d":"2016-07-04","v":12.71},{"d":"2016-07-05","v":12.79},{"d":"2016-07-08","v":12.74},{"d":"2016-07-10","v":12.65},{"d":"2016-07-13","v":12.51},{"d":"2016-07-15","v":12.54},{"d":"2016-07-16","v":12.51},{"d":"2016-07-17","v":12.54},{"d":"2016-07-19","v":12.39},{"d":"2016-07-22","v":12.38},{"d":"2016-07-23","v":12.35},{"d":"2016-07-25","v":12.22},{"d":"2016-07-27","v":12.21},{"d":"2016-07-29","v":12.33},{"d":"2016-07-31","v":12.19},
      {"d":"2016-08-02","v":12.21},{"d":"2016-08-03","v":12.05},{"d":"2016-08-06","v":12.04},{"d":"2016-08-10","v":12.04},{"d":"2016-08-11","v":12.29},{"d":"2016-08-13","v":12.29},{"d":"2016-08-14","v":12.22},{"d":"2016-08-16","v":12.51},{"d":"2016-08-19","v":12.42},{"d":"2016-08-21","v":12.30},{"d":"2016-08-23","v":12.26},{"d":"2016-08-25","v":12.24},{"d":"2016-08-27","v":12.10},{"d":"2016-08-28","v":12.26},{"d":"2016-08-29","v":11.98},{"d":"2016-08-30","v":12.24},{"d":"2016-08-31","v":12.14},
      {"d":"2016-09-03","v":12.17},{"d":"2016-09-05","v":12.14},{"d":"2016-09-06","v":12.00},{"d":"2016-09-08","v":12.13},{"d":"2016-09-09","v":12.10},{"d":"2016-09-12","v":12.12},{"d":"2016-09-13","v":12.00},{"d":"2016-09-16","v":12.02},{"d":"2016-09-17","v":11.99},{"d":"2016-09-18","v":11.96},{"d":"2016-09-20","v":11.87},{"d":"2016-09-22","v":11.92},{"d":"2016-09-23","v":11.87},{"d":"2016-09-25","v":11.98},{"d":"2016-09-26","v":11.97},{"d":"2016-09-27","v":11.78},{"d":"2016-09-30","v":11.77},
      {"d":"2016-10-01","v":11.66},{"d":"2016-10-02","v":11.42},{"d":"2016-10-04","v":11.42},{"d":"2016-10-05","v":11.36},{"d":"2016-10-07","v":11.40},{"d":"2016-10-09","v":11.40},{"d":"2016-10-10","v":11.19},{"d":"2016-10-12","v":11.36},{"d":"2016-10-13","v":11.30},{"d":"2016-10-15","v":11.19},{"d":"2016-10-16","v":11.37},{"d":"2016-10-18","v":11.30},{"d":"2016-10-20","v":11.37},{"d":"2016-10-21","v":11.32},{"d":"2016-10-22","v":11.36},{"d":"2016-10-24","v":11.80},{"d":"2016-10-25","v":11.39},{"d":"2016-10-27","v":11.45},{"d":"2016-10-29","v":11.50},{"d":"2016-10-30","v":11.78},
      {"d":"2016-11-02","v":11.79},{"d":"2016-11-04","v":11.80},{"d":"2016-11-05","v":11.65},{"d":"2016-11-06","v":11.93},{"d":"2016-11-08","v":11.94},{"d":"2016-11-09","v":11.80},{"d":"2016-11-11","v":11.87},{"d":"2016-11-12","v":11.73},{"d":"2016-11-13","v":11.90},{"d":"2016-11-15","v":11.80},{"d":"2016-11-16","v":11.67},{"d":"2016-11-18","v":11.78},{"d":"2016-11-19","v":11.59},{"d":"2016-11-21","v":11.58},{"d":"2016-11-23","v":11.51},{"d":"2016-11-24","v":11.51},{"d":"2016-11-26","v":11.47},{"d":"2016-11-27","v":11.77},{"d":"2016-11-29","v":11.64},{"d":"2016-11-30","v":11.78},
      {"d":"2016-12-02","v":11.64},{"d":"2016-12-03","v":11.59},{"d":"2016-12-04","v":11.97},{"d":"2016-12-06","v":11.98},{"d":"2016-12-07","v":11.99},{"d":"2016-12-08","v":11.83},{"d":"2016-12-09","v":11.94},{"d":"2016-12-11","v":12.07},{"d":"2016-12-12","v":11.99},{"d":"2016-12-13","v":11.83},{"d":"2016-12-15","v":11.70},{"d":"2016-12-16","v":11.89},{"d":"2016-12-18","v":12.10},{"d":"2016-12-19","v":11.37},{"d":"2016-12-21","v":11.64},{"d":"2016-12-23","v":11.57},{"d":"2016-12-24","v":11.48},{"d":"2016-12-26","v":11.62},{"d":"2016-12-28","v":11.48},{"d":"2016-12-30","v":11.43},{"d":"2016-12-31","v":11.71},
      {"d":"2017-01-02","v":11.43},{"d":"2017-01-03","v":11.60},{"d":"2017-01-05","v":11.51},{"d":"2017-01-07","v":11.80},{"d":"2017-01-08","v":11.57},{"d":"2017-01-10","v":11.62},{"d":"2017-01-11","v":11.44},{"d":"2017-01-13","v":11.46},{"d":"2017-01-15","v":11.46},{"d":"2017-01-16","v":11.92},{"d":"2017-01-17","v":11.93},{"d":"2017-01-19","v":12.02},{"d":"2017-01-20","v":11.97},{"d":"2017-01-22","v":11.92},{"d":"2017-01-24","v":11.99},{"d":"2017-01-26","v":11.95},{"d":"2017-01-28","v":12.07},{"d":"2017-01-29","v":11.94},{"d":"2017-01-31","v":12.09},
      {"d":"2017-02-02","v":12.02},{"d":"2017-02-03","v":12.05},{"d":"2017-02-05","v":11.90},{"d":"2017-02-07","v":12.00},{"d":"2017-02-09","v":12.00},{"d":"2017-02-11","v":11.94},{"d":"2017-02-12","v":12.07},{"d":"2017-02-14","v":12.05},{"d":"2017-02-15","v":12.32},{"d":"2017-02-17","v":12.27},{"d":"2017-02-19","v":12.63},{"d":"2017-02-20","v":12.44},{"d":"2017-02-23","v":12.42},{"d":"2017-02-24","v":12.48},{"d":"2017-02-25","v":12.57},{"d":"2017-02-26","v":11.80},{"d":"2017-02-28","v":11.78},
      {"d":"2017-03-02","v":11.79},{"d":"2017-03-04","v":11.80}
    ]
  },
  "encoding": {
    "x": {
      "field": "d",
      "type": "temporal",
      "scale": {
        "type": "utc",
        "domain": [{"year": 2014, "month": 1, "date": 1, "utc": true}, {"year": 2017, "month": 3, "date": 4, "utc": true}]
      },
      "axis": {
        "title": null,
        "format": "%b-%y",
        "labelAngle": -45,
        "labelFontSize": 30,
        "labelPadding": 3,
        "labelOffset": -8,
        "tickSize": 10,
        "grid": false,
        "values": [
          {"year": 2014, "month": 1, "date": 1, "utc": true},
          {"year": 2014, "month": 3, "date": 1, "utc": true},
          {"year": 2014, "month": 5, "date": 1, "utc": true},
          {"year": 2014, "month": 7, "date": 1, "utc": true},
          {"year": 2014, "month": 9, "date": 1, "utc": true},
          {"year": 2014, "month": 11, "date": 1, "utc": true},
          {"year": 2015, "month": 1, "date": 1, "utc": true},
          {"year": 2015, "month": 3, "date": 1, "utc": true},
          {"year": 2015, "month": 5, "date": 1, "utc": true},
          {"year": 2015, "month": 7, "date": 1, "utc": true},
          {"year": 2015, "month": 9, "date": 1, "utc": true},
          {"year": 2015, "month": 11, "date": 1, "utc": true},
          {"year": 2016, "month": 1, "date": 1, "utc": true},
          {"year": 2016, "month": 3, "date": 1, "utc": true},
          {"year": 2016, "month": 5, "date": 1, "utc": true},
          {"year": 2016, "month": 7, "date": 1, "utc": true},
          {"year": 2016, "month": 9, "date": 1, "utc": true},
          {"year": 2016, "month": 11, "date": 1, "utc": true},
          {"year": 2017, "month": 1, "date": 1, "utc": true},
          {"year": 2017, "month": 3, "date": 1, "utc": true}
        ]
      }
    }
  },
  "layer": [
    {
      "data": {"name": "peco"},
      "mark": {"type": "line", "strokeWidth": 5, "strokeJoin": "round", "strokeCap": "round"},
      "encoding": {
        "y": {
          "field": "v",
          "type": "quantitative",
          "scale": {"domain": [30, 60], "zero": false, "nice": false},
          "axis": {
            "orient": "left",
            "title": null,
            "values": [30, 35, 40, 45, 50, 55, 60],
            "format": "$.0f",
            "labelFontSize": 32,
            "labelPadding": 22,
            "tickSize": 12,
            "grid": true
          }
        },
        "color": {
          "datum": "PJM PECO, On Peak",
          "type": "nominal",
          "scale": {"domain": ["PJM PECO, On Peak", "Heat Rate"], "range": ["#1F497D", "#9BBB59"]},
          "legend": {
            "orient": "none",
            "legendX": 360,
            "legendY": 20,
            "direction": "horizontal",
            "title": null,
            "symbolType": "stroke",
            "symbolSize": 3100,
            "symbolStrokeWidth": 5,
            "labelFont": "Lato",
            "labelFontWeight": "bold",
            "labelFontSize": 38,
            "labelColor": "#000000",
            "labelLimit": 800,
            "labelOffset": 4,
            "columnPadding": 339,
            "padding": 0
          }
        }
      }
    },
    {
      "data": {"name": "hr"},
      "mark": {"type": "line", "strokeWidth": 5, "strokeJoin": "round", "strokeCap": "round"},
      "encoding": {
        "y": {
          "field": "v",
          "type": "quantitative",
          "scale": {"domain": [10.5, 14.5], "zero": false, "nice": false},
          "axis": {
            "orient": "right",
            "title": null,
            "values": [10.5, 11, 11.5, 12, 12.5, 13, 13.5, 14, 14.5],
            "format": ".1f",
            "labelFontSize": 32,
            "labelPadding": 24,
            "tickSize": 12,
            "grid": false
          }
        },
        "color": {
          "datum": "Heat Rate",
          "type": "nominal"
        }
      }
    }
  ],
  "resolve": {"scale": {"y": "independent"}, "axis": {"y": "independent"}},
  "config": {
    "view": {"stroke": null},
    "axis": {
      "labelFont": "Lato",
      "labelFontWeight": "bold",
      "labelColor": "#000000",
      "domainColor": "#8c8c8c",
      "domainWidth": 1.5,
      "tickColor": "#8c8c8c",
      "tickWidth": 1.5,
      "gridColor": "#8c8c8c",
      "gridWidth": 1.5,
      "gridOpacity": 1,
      "labelOverlap": false
    }
  }
}
